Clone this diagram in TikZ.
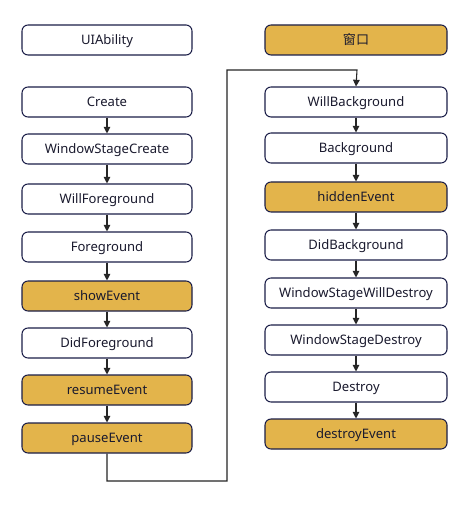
\documentclass[tikz,border=0pt]{standalone}
\usepackage{fontspec}
\setmainfont{Noto Sans}
\newfontfamily\cjk{Noto Sans CJK SC}
\usetikzlibrary{arrows.meta}
\definecolor{gold}{HTML}{E3B44B}
\definecolor{edge}{HTML}{1B1E48}
\definecolor{txt}{HTML}{1A1A2E}
\begin{document}
\begin{tikzpicture}[x=0.75pt,y=-0.75pt,
  box/.style={draw=edge,line width=0.8pt,rounded corners=4.5pt,minimum height=22.5pt,inner sep=0pt,text height=8.6pt,text depth=1.4pt,font=\fontsize{9.8pt}{11pt}\selectfont,text=txt},
  lbox/.style={box,minimum width=127.5pt},
  rbox/.style={box,minimum width=136.5pt},
  wbox/.style={fill=white},
  gbox/.style={fill=gold},
  link/.style={draw=black!85,line width=0.8pt,-{Triangle[length=5pt,width=5pt]}}]
\useasboundingbox[fill=white] (0,0) rectangle (470,505);
% left column
\node[lbox,wbox] (ua) at (107,40) {UIAbility};
\node[lbox,wbox] (l1) at (107,102) {Create};
\node[lbox,wbox] (l2) at (107,149) {WindowStageCreate};
\node[lbox,wbox] (l3) at (107,199) {WillForeground};
\node[lbox,wbox] (l4) at (107,247) {Foreground};
\node[lbox,gbox] (l5) at (107,296) {showEvent};
\node[lbox,wbox] (l6) at (107,343) {DidForeground};
\node[lbox,gbox] (l7) at (107,390) {resumeEvent};
\node[lbox,gbox] (l8) at (107,438) {pauseEvent};
% right column
\node[rbox,gbox] (win) at (356,40) {\cjk 窗口};
\node[rbox,wbox] (r1) at (356,102) {WillBackground};
\node[rbox,wbox] (r2) at (356,148) {Background};
\node[rbox,gbox] (r3) at (356,197) {hiddenEvent};
\node[rbox,wbox] (r4) at (356,245) {DidBackground};
\node[rbox,wbox] (r5) at (356,293) {WindowStageWillDestroy};
\node[rbox,wbox] (r6) at (356,340) {WindowStageDestroy};
\node[rbox,wbox] (r7) at (356,387) {Destroy};
\node[rbox,gbox] (r8) at (356,434) {destroyEvent};
% links
\foreach \a/\b in {l1/l2,l2/l3,l3/l4,l4/l5,l5/l6,l6/l7,l7/l8,r1/r2,r2/r3,r3/r4,r4/r5,r5/r6,r6/r7,r7/r8}
  \draw[link] (\a) -- (\b);
\coordinate (c1) at (107,481);
\coordinate (c2) at (227,481);
\coordinate (c3) at (227,70);
\coordinate (c4) at (357,70);
\draw[link] (l8.south) -- (c1) -- (c2) -- (c3) -- (c4) -- (r1.north);
\end{tikzpicture}
\end{document}
